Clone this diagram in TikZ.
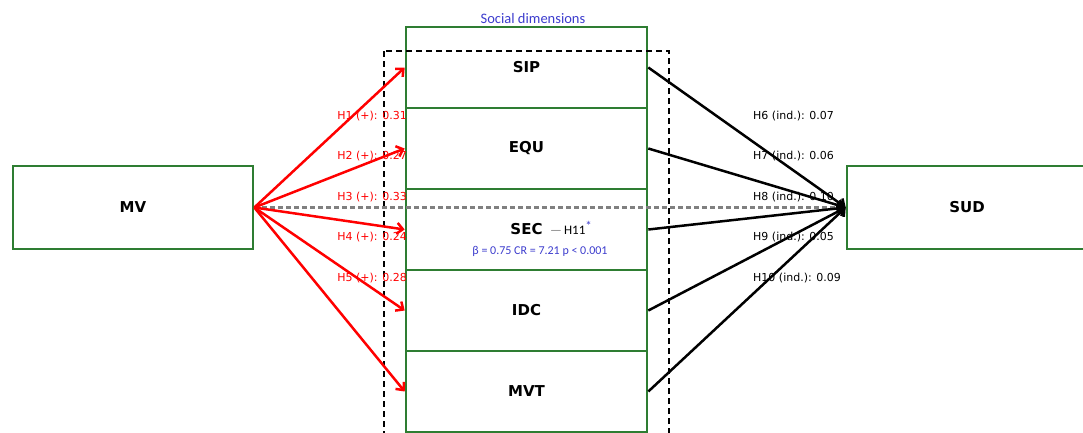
\documentclass[tikz,border=0pt]{standalone}
\usepackage{fontspec}
\usetikzlibrary{arrows.meta}
\setmainfont{DejaVu Sans}
\newfontfamily\calib{Carlito}
\definecolor{boxgreen}{RGB}{46,125,50}
\definecolor{dimblue}{RGB}{60,60,205}
\begin{document}
\begin{tikzpicture}[x=1pt,y=-1pt,
    dim/.style={draw=boxgreen, line width=2.6pt, minimum width=241pt, minimum height=81pt,
      font=\bfseries\fontsize{15}{17}\selectfont},
    hyp/.style={font=\fontsize{11}{13}\selectfont, inner sep=0pt},
    link/.style={line width=2.5pt, -{Straight Barb[length=6pt,width=11pt]}}]
    \useasboundingbox (0,0) rectangle (1083,432);
    \clip (0,0) rectangle (1083,432);
    % outer boxes
    \node[dim, minimum width=240pt, minimum height=83pt] (mv) at (133,207.5) {\raisebox{-1.5pt}{MV}};
    \node[dim, minimum width=240pt, minimum height=83pt] (sud) at (967,207.5) {\raisebox{-1.5pt}{SUD}};
    % social dimensions
    \node[dim] (sip) at (526.5,67.5) {\raisebox{-1.5pt}{SIP}};
    \node[dim] (equ) at (526.5,148.5) {\raisebox{-1.5pt}{EQU}};
    \node[dim] (sec) at (526.5,229.5) {\raisebox{-1.5pt}{SEC}};
    \node[dim] (idc) at (526.5,310.5) {\raisebox{-1.5pt}{IDC}};
    \node[dim] (mvt) at (526.5,391.5) {\raisebox{-1.5pt}{MVT}};
    \draw[dash pattern=on 6pt off 4pt, line width=2pt] (384,51) rectangle (669,445);
    \node[font=\calib\fontsize{14.5}{16}\selectfont, text=dimblue] (socdim) at (533,19) {Social dimensions};
    \node[font=\calib\fontsize{13}{15}\selectfont, anchor=west, inner sep=0pt] (h11) at (550,228)
      {\textcolor{gray}{—}\,H11\raisebox{4pt}{\textcolor{dimblue}{*}}};
    \node[font=\calib\fontsize{12}{14}\selectfont, text=dimblue] (beta) at (540,251)
      {β = 0.75 CR = 7.21 p < 0.001};
    % hypothesis labels
    \foreach \i/\v [count=\k from 0] in {1/0.31,2/0.27,3/0.33,4/0.24,5/0.28}
      \node[hyp, red, anchor=east] (hp\i) at (407,116+40.5*\k) {H\i{} (+): \v};
    \foreach \i/\v [count=\k from 0] in {6/0.07,7/0.06,8/0.10,9/0.05,10/0.09}
      \node[hyp, anchor=west] (hi\i) at (753,116+40.5*\k) {H\i{} (ind.): \v};
    % paths
    \draw[gray, line width=2.2pt, dash pattern=on 5pt off 3pt] (mv.east) -- (sud.west);
    \foreach \d in {sip,equ,sec,idc,mvt}
      \draw[link, red] (mv.east) -- (\d.west);
    \foreach \d in {sip,equ,sec,idc,mvt}
      \draw[link] (\d.east) -- (sud.west);
\end{tikzpicture}
\end{document}
